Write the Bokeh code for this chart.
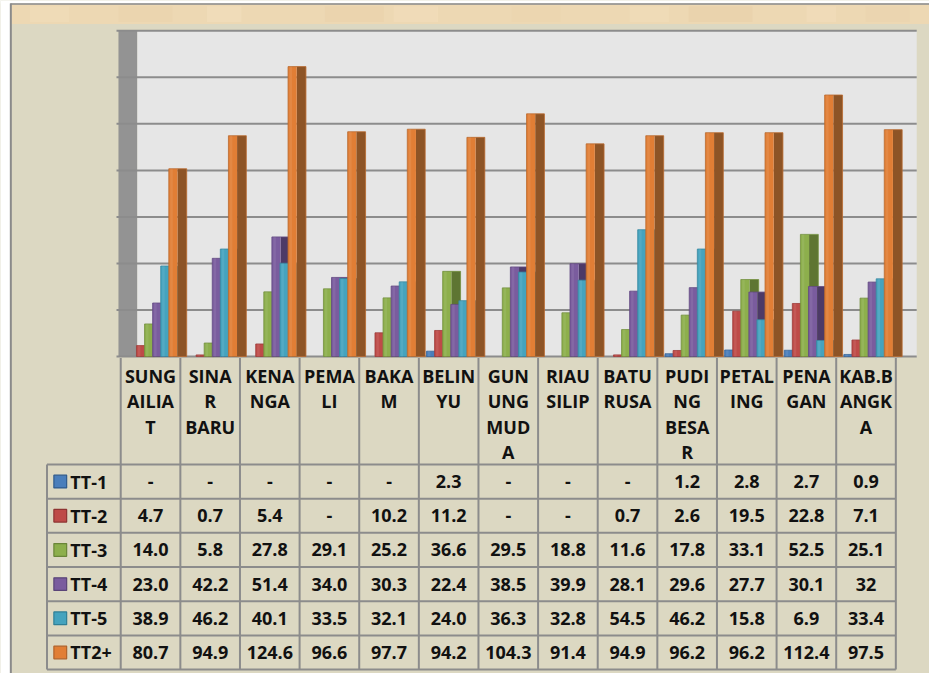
from bokeh.plotting import figure
from bokeh.models import Range1d
from bokeh.embed import file_html
from bokeh.resources import INLINE
from bokeh.core.properties import value

# ---------------- data ----------------
categories = ["SUNG\nAILIA\nT", "SINA\nR\nBARU", "KENA\nNGA", "PEMA\nLI", "BAKA\nM", "BELIN\nYU",
              "GUN\nUNG\nMUD\nA", "RIAU\nSILIP", "BATU\nRUSA", "PUDI\nNG\nBESA\nR", "PETAL\nING",
              "PENA\nGAN", "KAB.B\nANGK\nA"]
series_names = ["TT-1", "TT-2", "TT-3", "TT-4", "TT-5", "TT2+"]
tt1 = [None, None, None, None, None, 2.3, None, None, None, 1.2, 2.8, 2.7, 0.9]
tt2 = [4.7, 0.7, 5.4, None, 10.2, 11.2, None, None, 0.7, 2.6, 19.5, 22.8, 7.1]
tt3 = [14.0, 5.8, 27.8, 29.1, 25.2, 36.6, 29.5, 18.8, 11.6, 17.8, 33.1, 52.5, 25.1]
tt4 = [23.0, 42.2, 51.4, 34.0, 30.3, 22.4, 38.5, 39.9, 28.1, 29.6, 27.7, 30.1, 32]
tt5 = [38.9, 46.2, 40.1, 33.5, 32.1, 24.0, 36.3, 32.8, 54.5, 46.2, 15.8, 6.9, 33.4]
tt2plus = [80.7, 94.9, 124.6, 96.6, 97.7, 94.2, 104.3, 91.4, 94.9, 96.2, 96.2, 112.4, 97.5]
y_ticks = [0, 20, 40, 60, 80, 100, 120, 140]

series_values = [tt1, tt2, tt3, tt4, tt5, tt2plus]

# ---------------- styling / layout ----------------
front_colors = ["#4A7EBB", "#BE4B48", "#8DAF4C", "#7A5C9E", "#45A3BE", "#E17E35"]
side_colors = ["#2D4F7A", "#7E2E2C", "#5E7532", "#4D3A67", "#2B6F83", "#8D5426"]
edge_colors = ["#3A6699", "#9E3C3A", "#73903F", "#634A82", "#3788A0", "#B96A30"]
legend_edge = ["#2F5A8C", "#8E3432", "#6A8538", "#5A4478", "#2F7F96", "#B0622A"]

BG = "#DCD8C2"
GRID = "#8C8C8C"
FONT = value("Open Sans")
FS = "18px"

FIG_W, FIG_H = 929, 673       # canvas size (px)
REF_W, REF_H = 945, 689       # layout units (the canvas is scaled onto these)
SLOT = 60.65                  # width of one category column
COL0 = 122.3                  # x of first category column
ZERO_Y = 364.5                # y of value 0
TOP_Y = 31.0                  # y of the top tick
K = (ZERO_Y - TOP_Y) / (y_ticks[-1] - y_ticks[0])

x_start = (0 - COL0) / SLOT
x_end = (REF_W - COL0) / SLOT
y_end = ZERO_Y / K
y_start = -(REF_H - ZERO_Y) / K

p = figure(width=FIG_W, height=FIG_H, title=None,
           x_range=Range1d(x_start, x_end), y_range=Range1d(y_start, y_end),
           x_axis_location=None, y_axis_location=None,
           output_backend="svg", toolbar_location=None, min_border=0,
           outline_line_color=None, background_fill_color=BG, border_fill_color=BG)
p.grid.visible = False
p.extra_x_ranges = {"px": Range1d(0, REF_W)}
p.extra_y_ranges = {"px": Range1d(REF_H, 0)}
PX = dict(x_range_name="px", y_range_name="px")

# ---------------- frame decorations ----------------
p.quad(left=0, right=10, top=0, bottom=REF_H, fill_color="#FFFFFF", line_color=None, **PX)
p.quad(left=0, right=REF_W, top=0, bottom=3, fill_color="#FFFFFF", line_color=None, **PX)
# textured band on top
p.quad(left=11, right=REF_W, top=4, bottom=24, fill_color="#EDD8B3", line_color=None, **PX)
patch_l = [30, 120, 210, 330, 400, 520, 640, 700, 820, 880]
patch_w = [40, 55, 35, 60, 45, 50, 40, 65, 30, 45]
patch_c = ["#F2DFBD", "#E9D2AA", "#F4E3C2", "#E8D1A9", "#F3E0BE", "#EAD4AD", "#F2DFBC", "#E7CFA6", "#F3E1BF", "#E9D3AC"]
p.quad(left=patch_l, right=[a + b for a, b in zip(patch_l, patch_w)], top=6, bottom=22,
       fill_color=patch_c, line_color=None, fill_alpha=0.45, **PX)
p.segment(x0=[10], y0=[3.5], x1=[REF_W], y1=[3.5], line_color="#8A8A8A", line_width=1.5, **PX)
p.segment(x0=[10.5], y0=[3], x1=[10.5], y1=[REF_H], line_color="#8A8A8A", line_width=2, **PX)

# back wall and side wall
p.quad(left=139, right=932, bottom=[y_ticks[0]], top=[y_ticks[-1]], fill_color="#E6E6E6", line_color=None,
       x_range_name="px")
p.quad(left=120, right=139, bottom=[y_ticks[0]], top=[y_ticks[-1]], fill_color="#939393", line_color=None,
       x_range_name="px")
# gridlines
p.segment(x0=[118] * len(y_ticks), y0=y_ticks, x1=[932] * len(y_ticks), y1=y_ticks,
          line_color=GRID, line_width=2, x_range_name="px")

# ---------------- bars ----------------
OFF0 = 7.8 / SLOT
STEP = 8.22 / SLOT
FW = 8.8 / SLOT
SW = 9.4 / SLOT
for s, vals in enumerate(series_values):
    xs = [i for i, v in enumerate(vals) if v]
    tops = [v for v in vals if v]
    fl = [i + OFF0 + s * STEP for i in xs]
    fr = [x + FW for x in fl]
    sr = [x + SW for x in fr]
    p.quad(left=fr, right=sr, bottom=0, top=tops, fill_color=side_colors[s], line_color=None)
    p.quad(left=fl, right=fr, bottom=0, top=tops, fill_color=front_colors[s], line_color=None)
    p.quad(left=fl, right=sr, bottom=0, top=tops, fill_color=None, line_color=edge_colors[s],
           line_width=1, line_alpha=0.8)
    p.quad(left=[x + 1.5 / SLOT for x in fl], right=[x + 4.0 / SLOT for x in fl], bottom=0, top=tops,
           fill_color="white", fill_alpha=0.08, line_color=None)

# ---------------- data table ----------------
n = len(categories)
HEAD_TOP = 366.0
ROW_TOP = 475.0
ROW_H = 35.0
LEG_L = 47.3
nrows = len(series_names)
col_x = [COL0 + i * SLOT for i in range(n + 1)]
row_y = [ROW_TOP + r * ROW_H for r in range(nrows + 1)]

p.segment(x0=[LEG_L] * len(row_y), y0=row_y, x1=[col_x[-1]] * len(row_y), y1=row_y,
          line_color=GRID, line_width=2, **PX)
p.segment(x0=col_x, y0=[HEAD_TOP] * len(col_x), x1=col_x, y1=[row_y[-1]] * len(col_x),
          line_color=GRID, line_width=2, **PX)
p.segment(x0=[LEG_L], y0=[ROW_TOP], x1=[LEG_L], y1=[row_y[-1]], line_color=GRID, line_width=2, **PX)

# header labels
hx, hy, ht = [], [], []
for i, c in enumerate(categories):
    for j, line in enumerate(c.split("\n")):
        hx.append(i + 0.5)
        hy.append(384.5 + 26 * j)
        ht.append(line)
p.text(x=hx, y=hy, text=ht, text_font=FONT, text_font_style="bold", text_font_size=FS,
       text_align="center", text_baseline="middle", text_color="#111111", y_range_name="px")


def fmt(v):
    if v is None:
        return "-"
    if isinstance(v, int):
        return str(v)
    return f"{v:.1f}"


vx, vy, vt = [], [], []
for r, vals in enumerate(series_values):
    for i, v in enumerate(vals):
        vx.append(i + 0.5)
        vy.append(row_y[r] + ROW_H / 2)
        vt.append(fmt(v))
p.text(x=vx, y=vy, text=vt, text_font=FONT, text_font_style="bold", text_font_size=FS,
       text_align="center", text_baseline="middle", text_color="#111111", y_range_name="px")

# legend keys
cy = [row_y[r] + ROW_H / 2 for r in range(nrows)]
p.quad(left=54.3, right=67.3, top=[c - 6.5 for c in cy], bottom=[c + 6.5 for c in cy],
       fill_color=front_colors, line_color=legend_edge, line_width=1.2, **PX)
p.text(x=[71.0] * nrows, y=cy, text=series_names, text_font=FONT,
       text_font_style="bold", text_font_size=FS, text_align="left", text_baseline="middle",
       text_color="#111111", **PX)

open("out.html", "w").write(file_html(p, INLINE))
